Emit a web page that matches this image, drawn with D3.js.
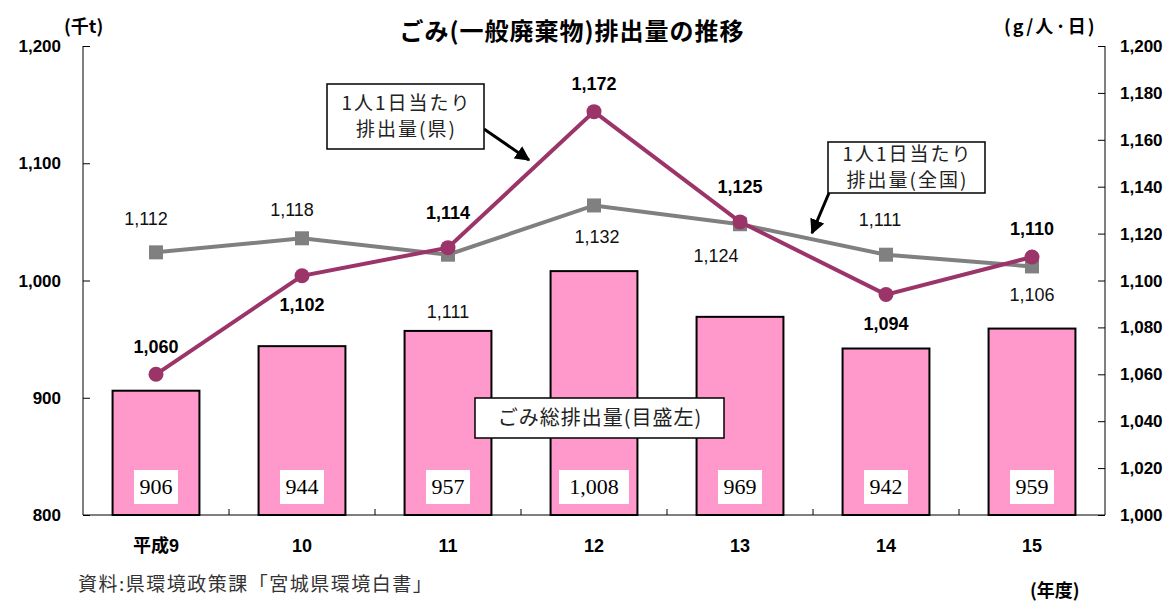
<!DOCTYPE html>
<html>
<head>
<meta charset="utf-8">
<script src="https://cdn.jsdelivr.net/npm/d3@7"></script>
<style>
  body { margin: 0; background: #fff; }
  text { font-family: "Liberation Sans", Arial, "Noto Sans CJK JP", sans-serif; }
  .jp { font-family: "Noto Sans CJK JP", sans-serif; }
</style>
</head>
<body>
<div id="container"></div>
<script>
/* DATA */
const years = ["平成9", "10", "11", "12", "13", "14", "15"];
const totalWaste = [906, 944, 957, 1008, 969, 942, 959];          // 千t (left)
const perCapitaPref = [1060, 1102, 1114, 1172, 1125, 1094, 1110];  // g/人・日 (right)
const perCapitaNation = [1112, 1118, 1111, 1132, 1124, 1111, 1106];
const leftTicks = [800, 900, 1000, 1100, 1200];
const rightTicks = [1000, 1020, 1040, 1060, 1080, 1100, 1120, 1140, 1160, 1180, 1200];

/* CONSTANTS */
const W = 1175, H = 604;
const margin = { top: 46, right: 70, bottom: 89, left: 83 };
const width = 1105 - margin.left;
const height = 515 - margin.top;

const svg = d3.select("#container").append("svg")
  .attr("width", W).attr("height", H);
const g = svg.append("g").attr("transform", `translate(${margin.left},${margin.top})`);

const x = d3.scaleBand().domain(years).range([0, width]).paddingInner(0.405).paddingOuter(0.2025);
const yL = d3.scaleLinear().domain([800, 1200]).range([height, 0]);
const yR = d3.scaleLinear().domain([1000, 1200]).range([height, 0]);
const cx = d => x(d) + x.bandwidth() / 2;
const fmt = d3.format(",");

/* BARS */
const bar = g.selectAll("g.bar").data(totalWaste).join("g").attr("class", "bar");
bar.append("rect")
  .attr("x", (d, i) => x(years[i]))
  .attr("y", d => yL(d))
  .attr("width", x.bandwidth())
  .attr("height", d => height - yL(d))
  .attr("fill", "#ff99cc")
  .attr("stroke", "#000").attr("stroke-width", 2);
bar.append("rect")
  .attr("x", (d, i) => cx(years[i]) - (d >= 1000 ? 35 : 22))
  .attr("y", height - 45)
  .attr("width", d => d >= 1000 ? 70 : 44)
  .attr("height", 34)
  .attr("fill", "#fff");
bar.append("text")
  .attr("x", (d, i) => cx(years[i]))
  .attr("y", height - 21)
  .attr("text-anchor", "middle")
  .style("font-family", "'Liberation Serif', 'DejaVu Serif', serif")
  .style("font-size", "22px")
  .text(d => fmt(d));

/* AXES */
const axL = g.append("g").call(d3.axisRight(yL).tickValues(leftTicks).tickSize(7).tickFormat(""));
axL.select(".domain").attr("d", `M0,${height}V0`);
const axR = g.append("g").attr("transform", `translate(${width},0)`)
  .call(d3.axisLeft(yR).tickValues(rightTicks).tickSize(7).tickFormat(""));
axR.select(".domain").attr("d", `M0,${height}V0`);
g.selectAll(".tick line, .domain").attr("stroke", "#000").attr("stroke-width", 1);

g.append("line").attr("x1", 0).attr("x2", width).attr("y1", height).attr("y2", height)
  .attr("stroke", "#000");
g.selectAll("line.cat").data(years.slice(1)).join("line").attr("class", "cat")
  .attr("x1", d => x(d) - x.step() * x.paddingInner() / 2)
  .attr("x2", d => x(d) - x.step() * x.paddingInner() / 2)
  .attr("y1", height).attr("y2", height - 6).attr("stroke", "#000");

svg.selectAll("text.tl").data(leftTicks).join("text").attr("class", "tl")
  .attr("x", 61).attr("y", d => margin.top + yL(d) + 6)
  .attr("text-anchor", "end").style("font-size", "17px").style("font-weight", "bold")
  .text(d => fmt(d));
svg.selectAll("text.tr").data(rightTicks).join("text").attr("class", "tr")
  .attr("x", 1120).attr("y", d => margin.top + yR(d) + 6)
  .style("font-size", "17px").style("font-weight", "bold")
  .text(d => fmt(d));
svg.selectAll("text.xl").data(years).join("text").attr("class", "xl")
  .attr("x", d => margin.left + cx(d)).attr("y", 552)
  .attr("text-anchor", "middle").style("font-size", "18px").style("font-weight", "bold")
  .text(d => d);

/* LINES */
const line = d3.line().x((d, i) => cx(years[i])).y(d => yR(d));
g.append("path").datum(perCapitaNation).attr("d", line)
  .attr("fill", "none").attr("stroke", "#808080").attr("stroke-width", 4);
g.selectAll("rect.nm").data(perCapitaNation).join("rect").attr("class", "nm")
  .attr("x", (d, i) => cx(years[i]) - 7).attr("y", d => yR(d) - 7)
  .attr("width", 14).attr("height", 14).attr("fill", "#808080");
g.append("path").datum(perCapitaPref).attr("d", line)
  .attr("fill", "none").attr("stroke", "#9b3468").attr("stroke-width", 4);
g.selectAll("circle.pm").data(perCapitaPref).join("circle").attr("class", "pm")
  .attr("cx", (d, i) => cx(years[i])).attr("cy", d => yR(d)).attr("r", 7.5)
  .attr("fill", "#9b3468");

/* DATA LABELS (offsets from the points) */
const prefOff = [[0, -21], [0, 35], [0, -29], [0, -22], [0, -29], [0, 35], [0, -22]];
const natOff = [[-10, -27], [-10, -22], [0, 63], [3, 38], [-24, 38], [-6, -29], [0, 35]];
g.selectAll("text.pl").data(perCapitaPref).join("text").attr("class", "pl")
  .attr("x", (d, i) => cx(years[i]) + prefOff[i][0]).attr("y", (d, i) => yR(d) + prefOff[i][1])
  .attr("text-anchor", "middle").style("font-size", "18px").style("font-weight", "bold")
  .text(d => fmt(d));
g.selectAll("text.nl").data(perCapitaNation).join("text").attr("class", "nl")
  .attr("x", (d, i) => cx(years[i]) + natOff[i][0]).attr("y", (d, i) => yR(d) + natOff[i][1])
  .attr("text-anchor", "middle").style("font-size", "18px").attr("fill", "#111")
  .text(d => fmt(d));

/* ANNOTATIONS */
svg.append("defs").append("marker").attr("id", "arr")
  .attr("viewBox", "0 0 10 10").attr("refX", 9).attr("refY", 5)
  .attr("markerWidth", 5).attr("markerHeight", 5).attr("orient", "auto")
  .append("path").attr("d", "M0,0L10,5L0,10Z").attr("fill", "#000");

function callout(x0, y0, w, h, lines, fs, ls) {
  svg.append("rect").attr("x", x0).attr("y", y0).attr("width", w).attr("height", h)
    .attr("fill", "#fff").attr("stroke", "#000").attr("stroke-width", 1.5);
  lines.forEach((t, i) => {
    svg.append("text").attr("class", "jp").attr("x", x0 + w / 2 + ls / 2)
      .attr("y", y0 + h / 2 + (i - (lines.length - 1) / 2) * 26 + fs * 0.36)
      .attr("text-anchor", "middle").style("font-size", fs + "px")
      .style("letter-spacing", ls + "px").attr("fill", "#222")
      .text(t);
  });
}
svg.append("line").attr("x1", 484).attr("y1", 129).attr("x2", 529).attr("y2", 160)
  .attr("stroke", "#000").attr("stroke-width", 3).attr("marker-end", "url(#arr)");
svg.append("line").attr("x1", 829).attr("y1", 193).attr("x2", 812).attr("y2", 233)
  .attr("stroke", "#000").attr("stroke-width", 3).attr("marker-end", "url(#arr)");
callout(327, 84, 157, 65, ["1人1日当たり", "排出量(県)"], 19, 2);
callout(828, 142, 157, 51, ["1人1日当たり", "排出量(全国)"], 19, 2);
callout(475, 398, 249, 40, ["ごみ総排出量(目盛左)"], 20, 1);

/* TITLES */
svg.append("text").attr("class", "jp").attr("x", 572).attr("y", 40)
  .attr("text-anchor", "middle").style("font-size", "24px").style("font-weight", "bold")
  .style("letter-spacing", "1px")
  .text("ごみ(一般廃棄物)排出量の推移");
svg.append("text").attr("class", "jp").attr("x", 64).attr("y", 33)
  .style("font-size", "18px").style("font-weight", "bold").text("(千t)");
svg.append("text").attr("class", "jp").attr("x", 1004).attr("y", 33)
  .style("font-size", "18px").style("font-weight", "bold").style("letter-spacing", "2px")
  .text("(g/人·日)");
svg.append("text").attr("class", "jp").attr("x", 78).attr("y", 591)
  .style("font-size", "19px").style("letter-spacing", "1.5px").attr("fill", "#333")
  .text("資料:県環境政策課「宮城県環境白書」");
svg.append("text").attr("class", "jp").attr("x", 1030).attr("y", 597)
  .style("font-size", "18px").style("font-weight", "bold").text("(年度)");
</script>
</body>
</html>
